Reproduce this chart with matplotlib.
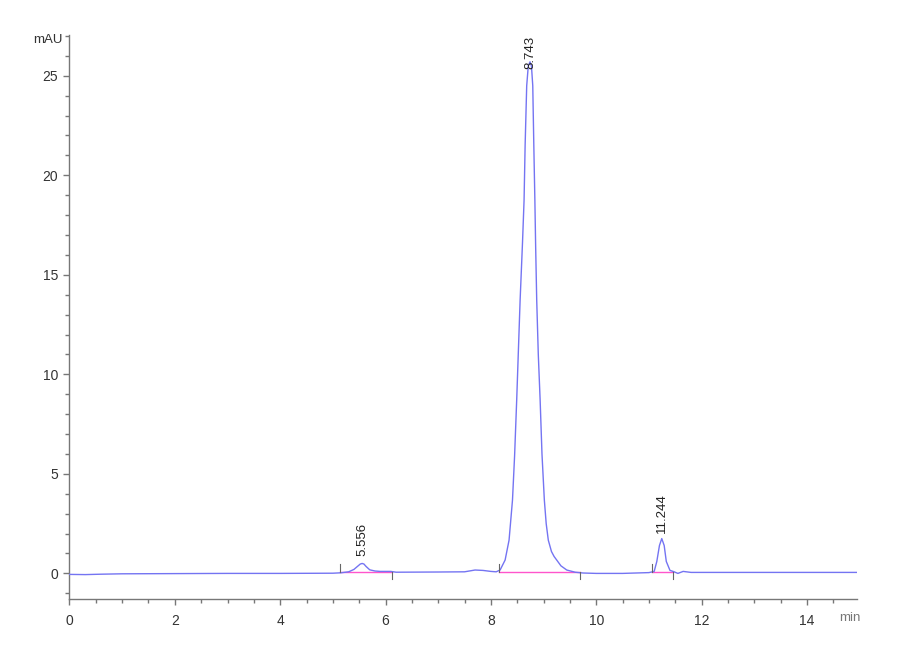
import matplotlib
matplotlib.use("Agg")
import matplotlib.pyplot as plt
from matplotlib.ticker import MultipleLocator

# ---- trace (min, mAU) ----
time_min = [0.0, 0.3, 0.6, 1.0, 2.0, 3.0, 4.0, 5.0, 5.15, 5.3, 5.4, 5.48,
            5.52, 5.556, 5.59, 5.63, 5.7, 5.8, 5.9, 6.1, 6.2, 7.0, 7.5, 7.7,
            7.85, 8.0, 8.1, 8.175, 8.27, 8.345, 8.41, 8.45, 8.49, 8.555,
            8.60, 8.63, 8.65, 8.68, 8.71, 8.743, 8.77, 8.795, 8.815, 8.835,
            8.85, 8.87, 8.90, 8.935, 8.97, 9.015, 9.05, 9.09, 9.15, 9.2,
            9.25, 9.33, 9.44, 9.6, 9.75, 10.0, 10.5, 11.0, 11.1, 11.15, 11.2,
            11.244, 11.29, 11.33, 11.4, 11.46, 11.55, 11.65, 11.8, 12.5, 13.0,
            14.0, 14.95]
signal = [-0.05, -0.06, -0.04, -0.02, -0.01, 0.0, 0.0, 0.01, 0.03, 0.08,
          0.2, 0.38, 0.47, 0.5, 0.47, 0.35, 0.18, 0.12, 0.1, 0.1, 0.06,
          0.07, 0.08, 0.17, 0.15, 0.1, 0.08, 0.17, 0.67, 1.67, 3.68, 5.9,
          8.71, 13.73, 16.6, 18.75, 21.5, 24.5, 25.5, 25.7, 25.5, 24.5, 21.5,
          18.75, 16.4, 13.73, 11.0, 8.71, 6.0, 3.68, 2.5, 1.67, 1.1, 0.85,
          0.67, 0.38, 0.17, 0.06, 0.02, 0.0, 0.0, 0.04, 0.1, 0.6, 1.4, 1.75,
          1.4, 0.6, 0.15, 0.1, 0.0, 0.1, 0.05, 0.05, 0.05, 0.05, 0.05]

# peak labels
peak_rt = [5.556, 8.743, 11.244]
peak_label_y = [0.85, 25.35, 2.05]

# integration baselines (start, end, level)
base_start = [5.14, 8.15, 11.06]
base_end = [6.12, 9.70, 11.46]
base_level = [0.07, 0.05, 0.06]

fig = plt.figure(figsize=(9, 6.6), dpi=100)
ax = fig.add_axes([0.0772, 0.092, 0.875, 0.855])

ax.plot(time_min, signal, color="#7474f2", lw=1.0, zorder=3)
for s, e, lv in zip(base_start, base_end, base_level):
    ax.plot([s, e], [lv, lv], color="#ff55cc", lw=1.0, zorder=2)
    # start / end markers
    ax.plot([s, s], [lv, lv + 0.4], color="#666666", lw=0.8, zorder=4)
    ax.plot([e, e], [lv, lv - 0.35], color="#666666", lw=0.8, zorder=4)

lab_font = ["Liberation Sans Narrow", "Liberation Sans", "DejaVu Sans"]
for rt, ly in zip(peak_rt, peak_label_y):
    ax.text(rt, ly, f"{rt:.3f}", rotation=90, ha="center", va="bottom",
            fontsize=9.5, color="#222222", family=lab_font, clip_on=False,
            zorder=5)

ax.set_xlim(0, 14.95)
ax.set_ylim(-1.3, 27.05)
ax.xaxis.set_major_locator(MultipleLocator(2))
ax.xaxis.set_minor_locator(MultipleLocator(0.5))
ax.yaxis.set_major_locator(MultipleLocator(5))
ax.yaxis.set_minor_locator(MultipleLocator(1))

for side in ["top", "right"]:
    ax.spines[side].set_visible(False)
for side in ["left", "bottom"]:
    ax.spines[side].set_color("#777777")
    ax.spines[side].set_linewidth(1.0)

ax.tick_params(which="major", direction="out", length=4.5, width=1.0,
               color="#777777", labelsize=10, labelcolor="#333333")
ax.tick_params(axis="x", which="major", pad=6)
ax.tick_params(which="minor", direction="out", length=2.8, width=1.0,
               color="#777777")
for lbl in ax.get_xticklabels() + ax.get_yticklabels():
    lbl.set_family(lab_font)

fig.text(0.053, 0.939, "mAU", ha="center", va="center", fontsize=9.5,
         color="#333333", family=lab_font)
fig.text(0.944, 0.064, "min", ha="center", va="center", fontsize=9.5,
         color="#777777", family=lab_font)

fig.savefig("out.png", dpi=100, facecolor="white")
